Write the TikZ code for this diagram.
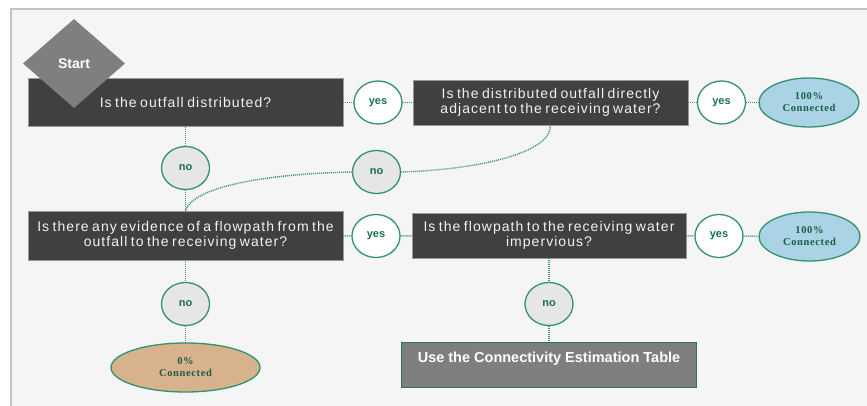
\documentclass[tikz,border=0pt]{standalone}
\usepackage{fontspec}
\setmainfont{Liberation Sans}
\newfontfamily\boxfont[LetterSpace=7.5,WordSpace=0.7]{Liberation Sans}
\newfontfamily\pctfont[LetterSpace=6]{Liberation Serif}
\usetikzlibrary{shapes.geometric}
\usetikzlibrary{positioning}

\definecolor{framegray}{RGB}{195,195,195}
\definecolor{panelgray}{RGB}{245,245,245}
\definecolor{boxdark}{RGB}{64,64,64}
\definecolor{boxmid}{RGB}{127,127,127}
\definecolor{linegreen}{RGB}{50,145,112}
\definecolor{textgreen}{RGB}{25,112,82}
\definecolor{nofill}{RGB}{230,230,230}
\definecolor{bluefill}{RGB}{171,211,230}
\definecolor{tanfill}{RGB}{216,178,140}

\tikzset{
  question/.style={rectangle, fill=boxdark, draw=boxmid!80, line width=0.6pt,
    text=white!95!black, inner sep=0pt, align=center,
    font=\boxfont\fontsize{14}{15.7}\selectfont},
  answer/.style={ellipse, draw=linegreen, line width=1.3pt, minimum width=48pt,
    minimum height=43pt, inner sep=0pt, text=textgreen,
    font=\bfseries\fontsize{11}{13}\selectfont},
  yesnode/.style={answer, fill=white},
  nonode/.style={answer, fill=nofill},
  result/.style={ellipse, draw=linegreen, line width=1.3pt, minimum height=49pt,
    inner sep=0pt, align=center, text=textgreen!85!black,
    font=\pctfont\bfseries\fontsize{10.5}{12}\selectfont},
  link/.style={draw=linegreen, line width=1.4pt, dash pattern=on 1pt off 1pt},
}

\begin{document}
\begin{tikzpicture}[x=1pt,y=1pt]
\clip (0,0) rectangle (867,-406);
\fill[white] (0,0) rectangle (867,-406);
\fill[panelgray] (11,-9) rectangle (880,-420);
\draw[framegray, line width=2pt] (11,-420) -- (11,-9) -- (880,-9);

% questions
\node[question, minimum width=315pt, minimum height=48pt] (distributed) at (185.5,-102.5) {Is the outfall distributed?};
\node[question, minimum width=275pt, minimum height=45pt] (adjacent) at (550.5,-102.5) {Is the distributed outfall directly\\adjacent to the receiving water?};
\node[question, minimum width=315pt, minimum height=49pt] (evidence) at (185.5,-235.5) {Is there any evidence of a flowpath from the\\outfall to the receiving water?};
\node[question, minimum width=274pt, minimum height=45pt] (impervious) at (549,-235.5) {Is the flowpath to the receiving water\\impervious?};
\node[rectangle, fill=boxmid, draw=linegreen!80!black, line width=1pt, minimum width=295pt, minimum height=45pt,
  text height=10pt, text depth=15pt, text=white, font=\bfseries\fontsize{14.5}{17}\selectfont] (table) at (549,-364.5) {Use the Connectivity Estimation Table};

\node[diamond, fill=boxmid, minimum width=102pt, minimum height=89pt, inner sep=0pt,
  text=white, font=\bfseries\fontsize{14}{16}\selectfont] (start) at (74,-63.5) {Start};

% answers
\node[yesnode] (yesA) at (378,-102.5) {yes};
\node[yesnode] (yesB) at (721.5,-102.5) {yes};
\node[yesnode] (yesC) at (376,-236) {yes};
\node[yesnode] (yesD) at (719,-236) {yes};
\node[nonode] (noA) at (185.5,-168) {no};
\node[nonode] (noB) at (376.5,-172) {no};
\node[nonode] (noC) at (185.5,-304) {no};
\node[nonode] (noD) at (549,-304) {no};

% results
\node[result, fill=bluefill, minimum width=100pt] (fullA) at (809,-102.5) {100\%\\Connected};
\node[result, fill=bluefill, minimum width=101pt] (fullB) at (809.5,-236.5) {100\%\\Connected};
\node[result, fill=tanfill, minimum width=149pt] (zero) at (185.5,-367.5) {0\%\\Connected};

% links
\draw[link] (distributed) -- (yesA);
\draw[link] (yesA) -- (adjacent);
\draw[link] (adjacent) -- (yesB);
\draw[link] (yesB) -- (fullA);
\draw[link] (distributed) -- (noA);
\draw[link] (noA) -- (evidence);
\draw[link] (adjacent.south) .. controls (551,-155) and (470,-170) .. (noB.east);
\draw[link] (noB.west) .. controls (260,-174) and (192,-188) .. (evidence.north);
\draw[link] (evidence) -- (yesC);
\draw[link] (yesC) -- (impervious);
\draw[link] (impervious) -- (yesD);
\draw[link] (yesD) -- (fullB);
\draw[link] (evidence) -- (noC);
\draw[link] (noC) -- (zero);
\draw[link] (impervious) -- (noD);
\draw[link] (noD) -- (table);

\end{tikzpicture}
\end{document}
